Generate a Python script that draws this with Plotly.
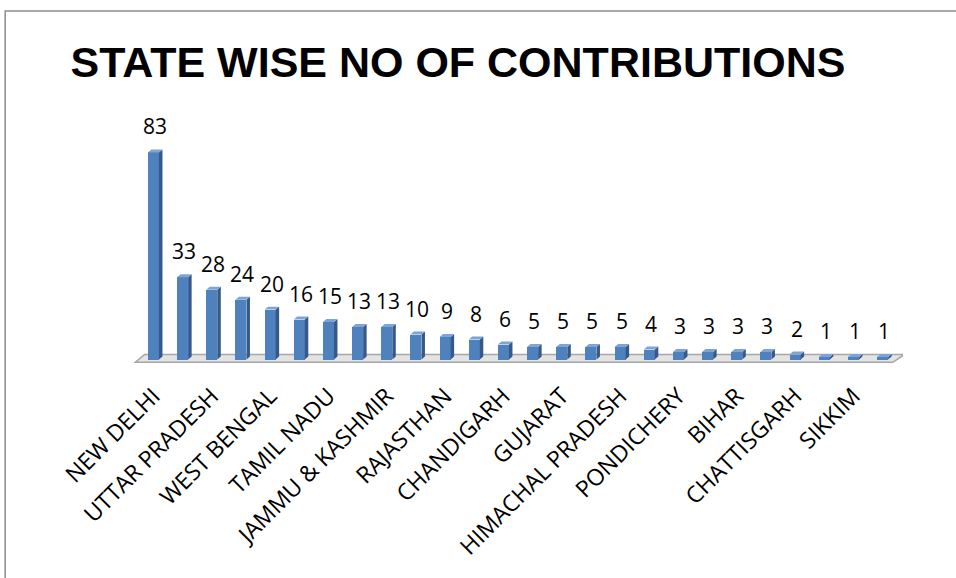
import plotly.graph_objects as go

# Data (26 bars, every other one labelled)
tick_labels = ["NEW DELHI", "UTTAR PRADESH", "WEST BENGAL", "TAMIL NADU",
               "JAMMU & KASHMIR", "RAJASTHAN", "CHANDIGARH", "GUJARAT",
               "HIMACHAL PRADESH", "PONDICHERY", "BIHAR", "CHATTISGARH", "SIKKIM"]
values = [83, 33, 28, 24, 20, 16, 15, 13, 13, 10, 9, 8, 6, 5, 5, 5, 5, 4, 3, 3, 3, 3, 2, 1, 1, 1]
title_text = "STATE WISE NO OF CONTRIBUTIONS"

positions = list(range(len(values)))
tick_positions = positions[::2][:len(tick_labels)]

FRONT = "#4F81BD"
SIDE = "#35598A"
TOP = "#7EA4D6"
FONT = "Open Sans, Liberation Sans, sans-serif"
bw = 0.38   # front face width (category units)
dx = 0.12   # depth offset x
dy = 1.2    # depth offset y (value units)

fig = go.Figure()
fig.add_trace(go.Bar(
    x=positions, y=values, width=bw,
    marker=dict(color=FRONT, line=dict(width=0)),
    hoverinfo="y", showlegend=False,
))

shapes = []
# floor slab
n = len(values)
shapes.append(dict(
    type="path", xref="x", yref="y", layer="below",
    path=f"M -0.62 -1.1 L {n-0.65} -1.1 L {n-0.25} 2 L -0.3 2 Z",
    fillcolor="#E3E3E3", line=dict(color="#A6A6A6", width=1.5),
))
for i, v in zip(positions, values):
    x0, x1 = i - bw / 2, i + bw / 2
    shapes.append(dict(
        type="path", xref="x", yref="y",
        path=f"M {x1} 0 L {x1+dx} {dy} L {x1+dx} {v+dy} L {x1} {v} Z",
        fillcolor=SIDE, line=dict(width=0),
    ))
    shapes.append(dict(
        type="path", xref="x", yref="y",
        path=f"M {x0} {v} L {x1} {v} L {x1+dx} {v+dy} L {x0+dx} {v+dy} Z",
        fillcolor=TOP, line=dict(width=0),
    ))

# chart border (partially visible)
shapes.append(dict(
    type="rect", xref="paper", yref="paper",
    x0=-0.166, x1=1.3, y0=-1.6, y1=1.534,
    line=dict(color="#8C8C8C", width=1.5), fillcolor="rgba(0,0,0,0)",
))

annotations = []
for i, v in zip(positions, values):
    annotations.append(dict(
        x=i + 0.05, y=v, xref="x", yref="y", text=str(v), showarrow=False,
        yanchor="bottom", yshift=10,
        font=dict(family=FONT, size=21, color="#000000"),
    ))

fig.update_layout(
    width=956, height=578,
    margin=dict(l=133, r=53, t=134.5, b=210.5),
    paper_bgcolor="white", plot_bgcolor="white",
    title=dict(
        text=f"<b>{title_text}</b>", x=458 / 956, xanchor="center",
        y=1 - 62 / 578, yanchor="middle", xref="container", yref="container",
        font=dict(family="Liberation Sans, Arial", size=43, color="#000000"),
    ),
    xaxis=dict(
        range=[-0.7, 25.7], tickmode="array", tickvals=tick_positions,
        ticktext=tick_labels, tickangle=-45, showgrid=False, zeroline=False,
        showline=False, ticks="", ticklabelstandoff=10,
        tickfont=dict(family=FONT, size=23, color="#000000"),
    ),
    yaxis=dict(range=[-3, 90], visible=False),
    shapes=shapes, annotations=annotations, bargap=0,
)

fig.write_html("out.html")
